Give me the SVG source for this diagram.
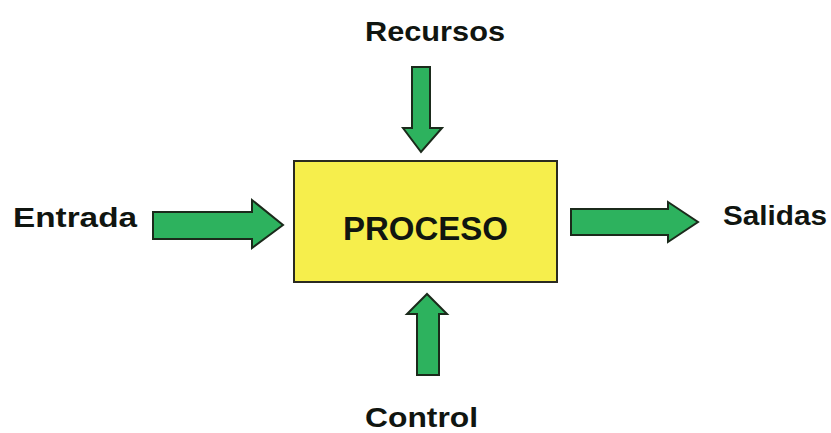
<svg xmlns="http://www.w3.org/2000/svg" width="831" height="433" viewBox="0 0 831 433">
<style>
.lbl{font-family:"Liberation Sans",Arial,sans-serif;font-weight:bold;font-size:28px;fill:#101510}
.arrow{fill:#2db25e;stroke:#1b2a1b;stroke-width:2;stroke-linejoin:miter}
.box{fill:#f6ee4c;stroke:#2a2a20;stroke-width:2}
</style>
<rect width="831" height="433" fill="#ffffff"/>
<g id="proceso">
<rect class="box" x="294" y="161" width="263" height="121"/>
<text class="lbl" x="343" y="240" textLength="165" lengthAdjust="spacingAndGlyphs" style="font-size:33px">PROCESO</text>
</g>
<g id="recursos"><text class="lbl" x="365" y="41" textLength="140" lengthAdjust="spacingAndGlyphs">Recursos</text></g>
<g id="entrada"><text class="lbl" x="13" y="227" textLength="124" lengthAdjust="spacingAndGlyphs">Entrada</text></g>
<g id="salidas"><text class="lbl" x="723" y="225" textLength="104" lengthAdjust="spacingAndGlyphs">Salidas</text></g>
<g id="control"><text class="lbl" x="365" y="427" textLength="113" lengthAdjust="spacingAndGlyphs">Control</text></g>
<g id="connectors">
<polygon class="arrow" points="412,67 430,67 430,128 442,128 421,152 403,128 412,128"/>
<polygon class="arrow" points="153,212 252,212 252,200 283,225 252,248 252,239 153,239"/>
<polygon class="arrow" points="571,209 668,209 668,202 698,222 668,242 668,235 571,235"/>
<polygon class="arrow" points="417,375 439,375 439,314 447,314 427,294 407,314 417,314"/>
</g>
</svg>
